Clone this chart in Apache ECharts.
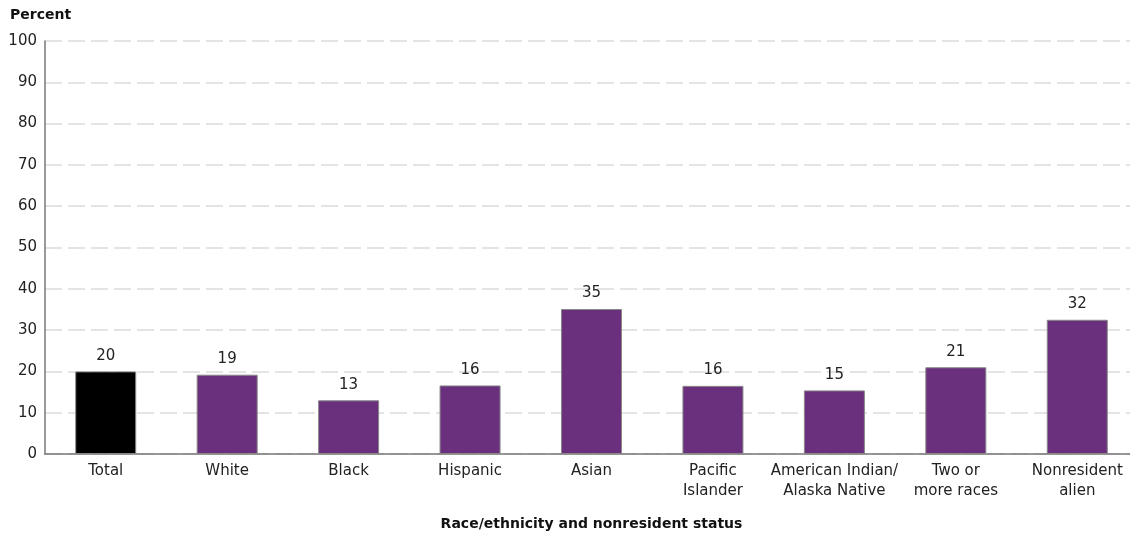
<!DOCTYPE html>
<html>
<head>
<meta charset="utf-8">
<script src="https://cdn.jsdelivr.net/npm/echarts@6/dist/echarts.min.js"></script>
<style>
  html, body { margin: 0; padding: 0; background: #fff; }
  #chart { width: 1130px; height: 535px; }
</style>
</head>
<body>
<div id="chart"></div>
<script>
// categories along x
const categories = ['Total', 'White', 'Black', 'Hispanic', 'Asian', 'Pacific\nIslander',
  'American Indian/\nAlaska Native', 'Two or\nmore races', 'Nonresident\nalien']
// bar heights
const values = [20.0, 19.2, 13.0, 16.6, 35.1, 16.5, 15.4, 21.0, 32.5]
// printed labels above bars
const labels = ['20', '19', '13', '16', '35', '16', '15', '21', '32']
const yTicks = [0, 10, 20, 30, 40, 50, 60, 70, 80, 90, 100]

const font = '"DejaVu Sans", Lato, sans-serif'
const purple = '#6a2f7d'

let myChart = echarts.init(document.getElementById('chart'))
let option = {
  animation: false,
  textStyle: { fontFamily: font },
  graphic: [
    {
      type: 'text',
      left: 10,
      top: 8,
      style: { text: 'Percent', fontFamily: font, fontSize: 14, fontWeight: 'bold', fill: '#111' }
    }
  ],
  grid: { left: 45, right: -8, top: 41, bottom: 81, outerBoundsMode: 'none', containLabel: false },
  xAxis: {
    type: 'category',
    data: categories,
    name: 'Race/ethnicity and nonresident status',
    nameLocation: 'middle',
    nameGap: 63,
    nameTextStyle: { fontFamily: font, fontSize: 14, fontWeight: 'bold', color: '#111' },
    axisLine: { lineStyle: { color: '#777', width: 1.5 } },
    axisTick: { show: false },
    axisLabel: { fontFamily: font, fontSize: 15, color: '#222', margin: 7, lineHeight: 20, interval: 0 }
  },
  yAxis: {
    type: 'value',
    min: yTicks[0],
    max: yTicks[yTicks.length - 1],
    interval: 10,
    axisLine: { show: true, lineStyle: { color: '#777', width: 1.5 } },
    axisTick: { show: false },
    axisLabel: { fontFamily: font, fontSize: 15, color: '#222', margin: 8 },
    splitLine: { lineStyle: { color: '#dcdcdc', width: 1.5, type: [17, 6] } }
  },
  series: [
    {
      type: 'bar',
      barWidth: 61,
      data: values.map((v, i) => ({
        value: v,
        itemStyle: { color: i === 0 ? '#000' : purple }
      })),
      itemStyle: { borderColor: '#888', borderWidth: 1 },
      label: {
        show: true,
        position: 'top',
        distance: 8,
        fontFamily: font,
        fontSize: 15,
        color: '#222',
        formatter: p => labels[p.dataIndex]
      }
    }
  ]
}
myChart.setOption(option)
</script>
</body>
</html>
